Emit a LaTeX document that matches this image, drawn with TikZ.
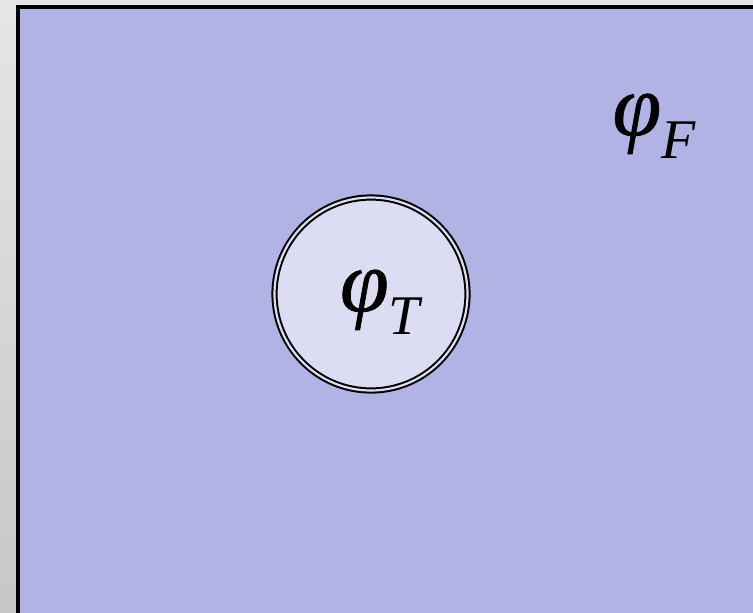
\documentclass[tikz,border=0pt]{standalone}
\usepackage{fontspec}
\newfontfamily\phifont[FakeBold=0.7]{Liberation Serif}
\newfontfamily\subfont{Liberation Serif}
\definecolor{bgfill}{HTML}{B1B3E5}
\definecolor{circfill}{HTML}{DCDCF2}
\tikzset{
  label/.style={inner sep=0pt, font=\phifont\itshape\fontsize{88}{88}\selectfont},
  ring/.style={circle, draw=black, line width=2pt, double=circfill, double distance=2.2pt, fill=circfill, minimum size=193pt, inner sep=0pt}
}
\newcommand{\phisub}[1]{φ\raisebox{-23pt}{\subfont\itshape\fontsize{56}{56}\selectfont #1}}
\begin{document}
\begin{tikzpicture}[x=1pt,y=-1pt]
\useasboundingbox (0,0) rectangle (753,613);
\shade[top color=black!10, bottom color=black!22] (0,0) rectangle (753,613);
\draw[line width=4pt, fill=bgfill] (18,7) rectangle (770,640);
\node[ring] (t) at (371,294) {};
\node[label] (tl) at (380,302) {\phisub{T}};
\node[label] (fl) at (654,126) {\phisub{F}};
\end{tikzpicture}
\end{document}
